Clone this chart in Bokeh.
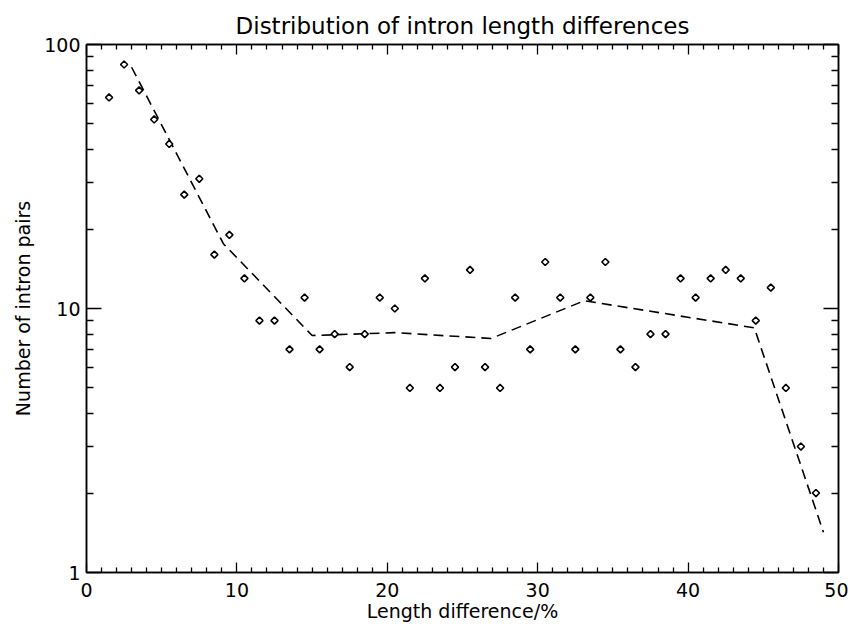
from bokeh.plotting import figure
from bokeh.models import FixedTicker, LinearAxis, LogAxis, Range1d, CustomJSTickFormatter
from bokeh.embed import file_html
from bokeh.resources import INLINE
import math

# Data
length_diff = [1.5, 2.5, 3.5, 4.5, 5.5, 6.5, 7.5, 8.5, 9.5, 10.5,
               11.5, 12.5, 13.5, 14.5, 15.5, 16.5, 17.5, 18.5, 19.5, 20.5,
               21.5, 22.5, 23.5, 24.5, 25.5, 26.5, 27.5, 28.5, 29.5, 30.5,
               31.5, 32.5, 33.5, 34.5, 35.5, 36.5, 37.5, 38.5, 39.5, 40.5,
               41.5, 42.5, 43.5, 44.5, 45.5, 46.5, 47.5, 48.5]
pair_counts = [63, 84, 67, 52, 42, 27, 31, 16, 19, 13,
               9, 9, 7, 11, 7, 8, 6, 8, 11, 10,
               5, 13, 5, 6, 14, 6, 5, 11, 7, 15,
               11, 7, 11, 15, 7, 6, 8, 8, 13, 11,
               13, 14, 13, 9, 12, 5, 3, 2]
fit_x = [3.0, 9.1, 15.0, 20.5, 26.9, 33.1, 44.4, 49.0]
fit_y = [82, 17.6, 7.9, 8.1, 7.7, 10.7, 8.45, 1.42]

x_major = [0, 10, 20, 30, 40, 50]
x_minor = [v for v in range(0, 51) if v % 10 != 0]
y_major = [1, 10, 100]
y_minor = [m * d for d in (1, 10) for m in range(2, 10)]

FONT = "DejaVu Sans"

p = figure(width=848, height=630, output_backend="svg", toolbar_location=None,
           y_axis_type="log", x_range=Range1d(0, 50), y_range=Range1d(1, 100),
           min_border_left=86, min_border_right=10, min_border_top=44,
           min_border_bottom=58, title="Distribution of intron length differences")

p.title.align = "center"
p.title.text_font = FONT
p.title.text_font_size = "23px"
p.title.text_font_style = "normal"
p.title.text_color = "black"
p.title.offset = 0
p.title.standoff = 11

p.grid.visible = False
p.outline_line_color = "black"
p.outline_line_width = 1.5
p.background_fill_color = "white"
p.border_fill_color = "white"

def style(ax, major, minor, labels=True):
    ax.ticker = FixedTicker(ticks=major, minor_ticks=minor)
    ax.axis_line_color = "black"
    ax.axis_line_width = 1.5
    ax.major_tick_line_color = "black"
    ax.minor_tick_line_color = "black"
    ax.major_tick_line_width = 1.3
    ax.minor_tick_line_width = 1.3
    ax.major_tick_in = 15
    ax.major_tick_out = 0
    ax.minor_tick_in = 7
    ax.minor_tick_out = 0
    ax.major_label_text_font = FONT
    ax.major_label_text_font_size = "19px"
    ax.major_label_text_color = "black"
    ax.axis_label_text_font = FONT
    ax.axis_label_text_font_size = "19px"
    ax.axis_label_text_font_style = "normal"
    ax.axis_label_text_color = "black"
    if not labels:
        ax.major_label_text_alpha = 0
        ax.major_label_text_font_size = "0px"

xa = p.xaxis[0]
style(xa, x_major, x_minor)
xa.major_tick_in = 10
xa.minor_tick_in = 5
xa.axis_label = "Length difference/%"
xa.major_label_standoff = 10
xa.axis_label_standoff = 0

ya = p.yaxis[0]
style(ya, y_major, y_minor)
ya.axis_label = "Number of intron pairs"
ya.major_label_standoff = 6
ya.axis_label_standoff = 7
ya.formatter = CustomJSTickFormatter(code="return tick.toFixed(0);")

top = LinearAxis()
style(top, x_major, x_minor, labels=False)
top.major_tick_in = 10
top.minor_tick_in = 5
p.add_layout(top, "above")

right = LogAxis()
style(right, y_major, y_minor, labels=False)
p.add_layout(right, "right")

p.line(fit_x, fit_y, line_color="black", line_width=1.6, line_dash="10 6")
p.scatter(length_diff, pair_counts, marker="square", size=5, angle=math.pi / 4,
          fill_color="white", line_color="black", line_width=1.6)

open("out.html", "w").write(file_html(p, INLINE))
